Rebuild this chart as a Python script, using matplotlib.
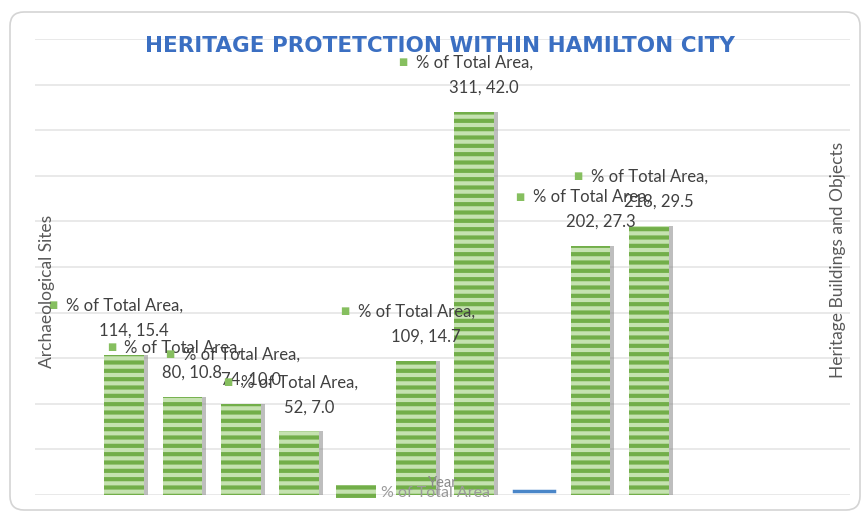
"""Heritage protection within Hamilton City - striped bar chart."""

import matplotlib
matplotlib.use('Agg')
import matplotlib.pyplot as plt
from matplotlib.patches import Patch, FancyBboxPatch
from matplotlib.lines import Line2D
import numpy as np

# category slots (None = empty slot in the original chart)
counts = [114, 80, 74, 52, None, 109, 311, None, 202, 218]
pct_area = [15.4, 10.8, 10.0, 7.0, None, 14.7, 42.0, None, 27.3, 29.5]
series_name = '% of Total Area'
title = 'HERITAGE PROTETCTION WITHIN HAMILTON CITY'
left_title = 'Archaeological Sites'
right_title = 'Heritage Buildings and Objects'
x_title = 'Year'

plt.rcParams['font.family'] = ['Lato', 'DejaVu Sans']
plt.rcParams['hatch.linewidth'] = 3.0

W, H = 867, 516
fig = plt.figure(figsize=(W / 100, H / 100), dpi=100)

# card border
fig.patches.append(FancyBboxPatch((10, 6), 850, 498, boxstyle='round,pad=0,rounding_size=14',
                                  transform=None, fc='none', ec='#d4d4d4', lw=1.2, zorder=-5))

ax = fig.add_axes([35 / W, 1 - 495 / H, 815 / W, 456 / H])
ax.set_facecolor('none')

x = np.arange(len(pct_area))
mask = np.array([v is not None for v in pct_area])
xs = x[mask]
ys = np.array([v for v in pct_area if v is not None])
cs = [c for c in counts if c is not None]

# shadow + striped bars
ax.bar(xs + 0.07, ys, 0.68, color='#8a8a8a', alpha=0.55, lw=0, zorder=2)
ax.bar(xs, ys, 0.68, facecolor='#c5e2b0', edgecolor='#72ae49', hatch='--', lw=0, zorder=3)

ax.set_xlim(-1.53, 12.45)
ax.set_ylim(0, 50)
ax.set_yticks(np.arange(0, 55, 5))
ax.set_xticks([])
ax.tick_params(left=False, labelleft=False)
ax.grid(axis='y', color='#e3e3e3', lw=1.1, zorder=0)
ax.set_axisbelow(True)
ax.xaxis.set_zorder(6)
for s in ax.spines.values():
    s.set_visible(False)

# data labels
for xi, yi, ci in zip(xs, ys, cs):
    ax.annotate('■', (xi, yi), xytext=(-71, 49), textcoords='offset pixels',
                ha='center', va='center', fontsize=7, color='#86bf5f', zorder=5)
    ax.annotate(series_name + ',', (xi, yi), xytext=(-58, 49), textcoords='offset pixels',
                ha='left', va='center', fontsize=12, color='#404040', zorder=5)
    ax.annotate(f'{ci}, {yi:.1f}', (xi, yi), xytext=(10, 24), textcoords='offset pixels',
                ha='center', va='center', fontsize=12, color='#404040', zorder=5)

# legend (sits inside the plot like the original)
handles = [Patch(facecolor='#c5e2b0', edgecolor='#72ae49', hatch='--', lw=0),
           Line2D([], [], color='#4a86c8', lw=2.5)]
fig.legend(handles, [series_name, ''], loc='lower left', ncol=2,
           bbox_to_anchor=(336 / W, 1 - 500 / H), frameon=False, fontsize=11.5,
           handlelength=2.5, handleheight=0.8, handletextpad=0.3, columnspacing=1.5,
           borderpad=0, borderaxespad=0, labelcolor='#9a9a9a')

ax.set_xlabel(x_title, fontsize=10.5, color='#8a8a8a')
ax.xaxis.set_label_coords(0.5, 0.026)
ax.xaxis.label.set_va('center')

fig.text(47 / W, 1 - 291 / H, left_title, rotation=90, ha='center', va='center',
         fontsize=12.5, color='#595959')
fig.text(838 / W, 1 - 260 / H, right_title, rotation=90, ha='center', va='center',
         fontsize=12.5, color='#595959')
fig.text(440 / W, 1 - 46 / H, title, ha='center', va='center', fontsize=15.5,
         fontweight='bold', color='#3b6fc2', family=['DejaVu Sans'])

fig.savefig('out.png', dpi=100)
